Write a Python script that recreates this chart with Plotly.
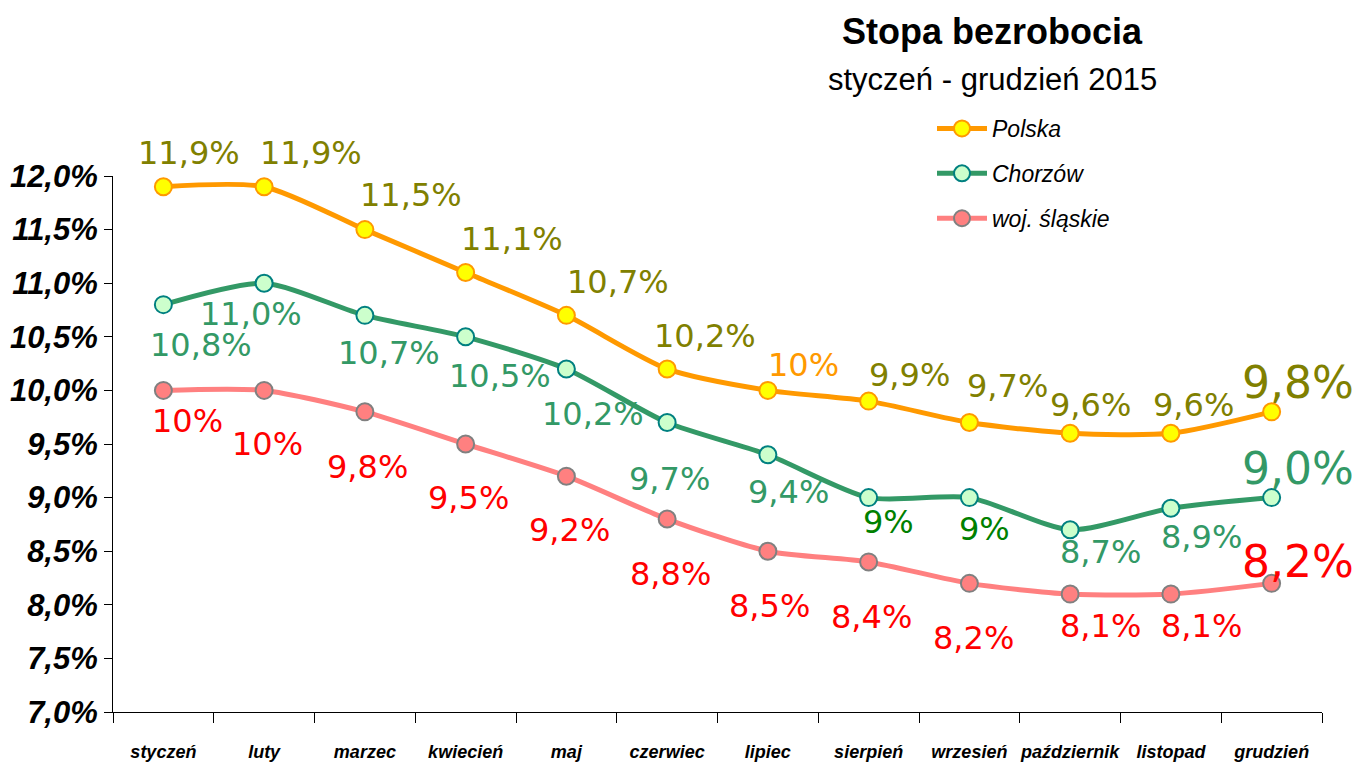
import plotly.graph_objects as go

months = ["styczeń", "luty", "marzec", "kwiecień", "maj", "czerwiec", "lipiec",
          "sierpień", "wrzesień", "październik", "listopad", "grudzień"]

polska = [11.9, 11.9, 11.5, 11.1, 10.7, 10.2, 10.0, 9.9, 9.7, 9.6, 9.6, 9.8]
chorzow = [10.8, 11.0, 10.7, 10.5, 10.2, 9.7, 9.4, 9.0, 9.0, 8.7, 8.9, 9.0]
slaskie = [10.0, 10.0, 9.8, 9.5, 9.2, 8.8, 8.5, 8.4, 8.2, 8.1, 8.1, 8.2]

polska_txt = ["11,9%", "11,9%", "11,5%", "11,1%", "10,7%", "10,2%", "10%", "9,9%", "9,7%", "9,6%", "9,6%", "9,8%"]
chorzow_txt = ["10,8%", "11,0%", "10,7%", "10,5%", "10,2%", "9,7%", "9,4%", "9%", "9%", "8,7%", "8,9%", "9,0%"]
slaskie_txt = ["10%", "10%", "9,8%", "9,5%", "9,2%", "8,8%", "8,5%", "8,4%", "8,2%", "8,1%", "8,1%", "8,2%"]

yticks = [7.0, 7.5, 8.0, 8.5, 9.0, 9.5, 10.0, 10.5, 11.0, 11.5, 12.0]

# label offsets in px (dx, dy down) - hand placed like in the original sheet
polska_off = [(26, -34), (47, -34), (46, -35), (46, -33), (52, -33), (38, -33), (36, -25),
              (41, -26), (38, -37), (20, -28), (23, -28), (26, -29)]
chorzow_off = [(38, 40), (-13, 31), (24, 38), (34, 39), (27, 45), (2, 56), (21, 37),
               (20, 24), (15, 31), (30, 22), (31, 29), (26, -29)]
slaskie_off = [(24, 31), (3, 54), (3, 55), (3, 54), (3, 54), (3, 55), (2, 55),
               (3, 55), (4, 55), (30, 32), (31, 32), (26, -22)]

series = [
    ("Polska", polska, polska_txt, polska_off, "#FF9900", "#FFFF00", "#FF9900", "#808000"),
    ("Chorzów", chorzow, chorzow_txt, chorzow_off, "#339966", "#CCFFCC", "#008080", "#339966"),
    ("woj. śląskie", slaskie, slaskie_txt, slaskie_off, "#FF8080", "#FF8080", "#808080", "#FF0000"),
]

# page body has an 8px margin, so pixel targets below are shifted by it
L, R, T, B = 105, 48, 168, 59
W, H = 1362, 763
pw, ph = W - L - R, H - T - B

fig = go.Figure()
annots = []
for i, (name, vals, txt, off, lc, mfill, mline, tc) in enumerate(series):
    fig.add_trace(go.Scatter(
        x=months, y=vals, name="<i>%s</i>" % name, mode="lines+markers",
        line=dict(color=lc, width=5, shape="spline", smoothing=0.7),
        marker=dict(size=17, color=mfill, line=dict(color=mline, width=2)),
        legendgroup=str(i),
    ))
    for j, (m, v, t, (dx, dy)) in enumerate(zip(months, vals, txt, off)):
        col = tc
        if t == "10%" and name == "Polska":
            col = "#FF9900"
        if t == "9%" and name == "Chorzów":
            col = "#008000"
        size = 44 if j == len(months) - 1 else 32
        annots.append(dict(x=m, y=v, xref="x", yref="y", text=t, showarrow=False,
                           xshift=dx, yshift=-dy, xanchor="center", yanchor="middle",
                           font=dict(family="DejaVu Sans", size=size, color=col)))

for txt, px, py, sz in [("<b>Stopa bezrobocia</b>", 984, 23, 36),
                        ("styczeń - grudzień 2015", 984, 72, 31)]:
    annots.append(dict(x=(px - L) / pw, y=(H - B - py) / ph, xref="paper", yref="paper",
                       text=txt, showarrow=False, xanchor="center", yanchor="middle",
                       font=dict(family="Liberation Sans", size=sz, color="#000")))

fig.update_layout(
    width=W, height=H,
    margin=dict(l=L, r=R, t=T, b=B, autoexpand=False),
    plot_bgcolor="white", paper_bgcolor="white",
    showlegend=True,
    legend=dict(x=(924 - L) / pw, y=(H - B - 99) / ph, xanchor="left", yanchor="top",
                traceorder="grouped", tracegroupgap=12, itemwidth=50,
                font=dict(family="Liberation Sans", size=23, color="#000"),
                bgcolor="rgba(0,0,0,0)"),
    annotations=annots,
    xaxis=dict(showline=True, linecolor="#000", linewidth=1, ticks="outside", ticklen=10,
               tickcolor="#000", tickson="boundaries", showgrid=False, tickangle=0,
               automargin=False, ticklabelstandoff=23,
               tickfont=dict(family="Liberation Sans", size=18, color="#000"),
               tickvals=months, ticktext=["<b><i>%s</i></b>" % m for m in months],
               range=[-0.5, 11.5]),
    yaxis=dict(range=[7, 12], showline=True, linecolor="#000", linewidth=1, ticks="outside",
               ticklen=8, tickcolor="#000", showgrid=False, zeroline=False, automargin=False,
               tickvals=yticks, ticklabelstandoff=0,
               ticktext=["<b><i>%s%%</i></b>" % ("%.1f" % v).replace(".", ",") for v in yticks],
               tickfont=dict(family="Liberation Sans", size=31, color="#000")),
)

fig.write_html("out.html")
